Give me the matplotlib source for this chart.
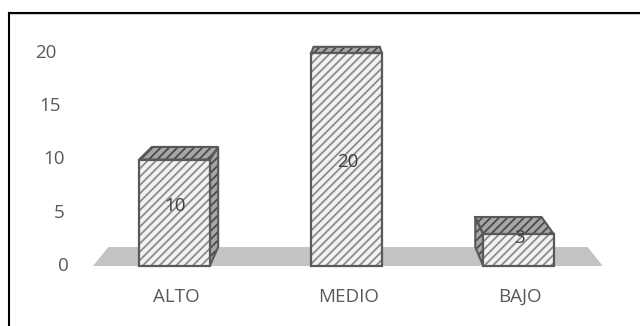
import matplotlib
matplotlib.use("Agg")
import matplotlib.pyplot as plt
from matplotlib.patches import Polygon
from matplotlib.lines import Line2D

# data
categorias = ["ALTO", "MEDIO", "BAJO"]
valores = [10, 20, 3]
ticks_y = [0, 5, 10, 15, 20]

plt.rcParams['font.family'] = ['Open Sans', 'DejaVu Sans']
plt.rcParams['hatch.linewidth'] = 1.3
txt_color = '#595959'

fig = plt.figure(figsize=(6.4, 3.26), dpi=100)
ax = fig.add_axes([0, 0, 1, 1])
# one data unit: 172 px in x, 10.65 px in y; x=0 at px 174.5, y=0 at px 266 from top
ax.set_xlim(-174.5 / 172, (640 - 174.5) / 172)
ax.set_ylim((266 - 326) / 10.65, 266 / 10.65)
ax.axis('off')

# fake perspective: back plane shrinks toward a vanishing point
vp = (1.02, 29.67)
s = 0.94
def back(x, y):
    return (vp[0] + (x - vp[0]) * s, vp[1] + (y - vp[1]) * s)

# floor
fx0, fx1 = -0.474, 2.49
floor = Polygon([(fx0, 0), (fx1, 0), back(fx1, 0), back(fx0, 0)],
                closed=True, facecolor='#c3c3c3', edgecolor='none', zorder=1)
ax.add_patch(floor)

w = 0.41
xs = list(range(len(categorias)))
dark = dict(facecolor='#a6a6a6', hatch='////', edgecolor='#4a4a4a', linewidth=0, zorder=2)
for x, v in zip(xs, valores):
    x0, x1 = x - w / 2, x + w / 2
    if x1 < vp[0]:
        side = [(x1, 0), (x1, v), back(x1, v), back(x1, 0)]
    elif x0 > vp[0]:
        side = [(x0, 0), (x0, v), back(x0, v), back(x0, 0)]
    else:
        side = None
    if side:
        ax.add_patch(Polygon(side, closed=True, **dark))
        ax.add_patch(Polygon(side, closed=True, fill=False, edgecolor='#595959', linewidth=1.5, zorder=2.1))
    top = [(x0, v), (x1, v), back(x1, v), back(x0, v)]
    ax.add_patch(Polygon(top, closed=True, **dark))
    ax.add_patch(Polygon(top, closed=True, fill=False, edgecolor='#595959', linewidth=1.5, zorder=2.1))

# front faces
ax.bar(xs, valores, width=w, facecolor='#f2f2f2', hatch='////', edgecolor='#8c8c8c',
       linewidth=0, zorder=3)
ax.bar(xs, valores, width=w, fill=False, edgecolor='#595959', linewidth=1.6, zorder=3.1)

# data labels
for x, v in zip(xs, valores):
    ax.text(x + 0.005, 0.42 * v + 1.4, str(v), ha='center', va='center',
            fontsize=13.5, color='#404040', zorder=4)

# y tick labels (slanted axis)
for t in ticks_y:
    ax.text((63 - 0.85 * t - 174.5) / 172, t, str(t), ha='center', va='center',
            fontsize=13.5, color=txt_color)

# category labels
for x, c in zip(xs, categorias):
    ax.text(x + 0.01, -2.9, c, ha='center', va='center', fontsize=13.5, color=txt_color)

# chart frame (left and top only are in view)
fig.add_artist(Line2D([9 / 640, 9 / 640], [0, 1 - 12.5 / 326], color='black', linewidth=1.5))
fig.add_artist(Line2D([9 / 640, 1], [1 - 12.5 / 326, 1 - 12.5 / 326], color='black', linewidth=1.5))
fig.add_artist(Line2D([10 / 640, 1], [1 - 14 / 326, 1 - 14 / 326], color='#c8c8c8', linewidth=0.8))

fig.savefig('out.png', dpi=100)
